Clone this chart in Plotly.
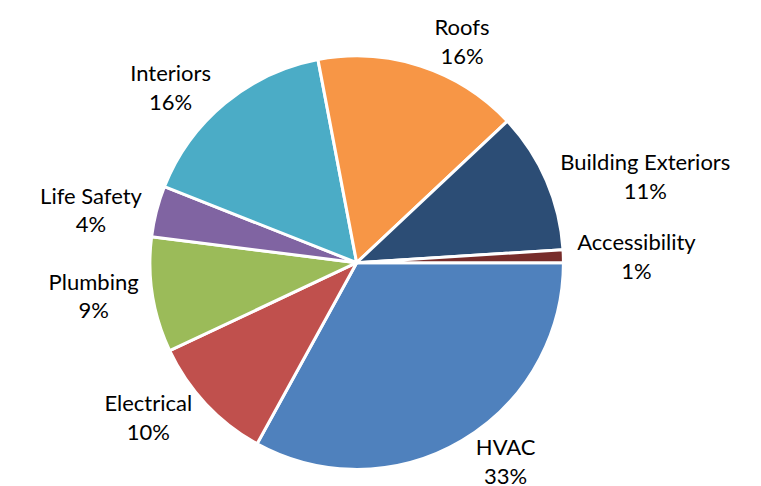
import plotly.graph_objects as go

# Share of spending by building system (percent)
categories = ["HVAC", "Electrical", "Plumbing", "Life Safety", "Interiors",
              "Roofs", "Building Exteriors", "Accessibility"]
shares = [33, 10, 9, 4, 16, 16, 11, 1]
colors = ["#4F81BD", "#C0504D", "#9BBB59", "#8064A2", "#4BACC6",
          "#F79646", "#2C4D75", "#772C2A"]

fig = go.Figure()

fig.add_trace(go.Pie(
    labels=categories,
    values=shares,
    sort=False,
    direction="clockwise",
    rotation=90,
    marker=dict(colors=colors, line=dict(color="white", width=3)),
    texttemplate="%{label}<br>%{percent:.0%}",
    textposition="outside",
    textfont=dict(family="Lato", size=22, color="black"),
    domain=dict(x=[0.157, 0.745], y=[0.035, 0.962]),
    showlegend=False,
    hoverinfo="label+percent",
))

fig.update_layout(
    width=761,
    height=486,
    margin=dict(l=0, r=0, t=0, b=0),
    paper_bgcolor="white",
    plot_bgcolor="white",
)

fig.write_html("out.html")
